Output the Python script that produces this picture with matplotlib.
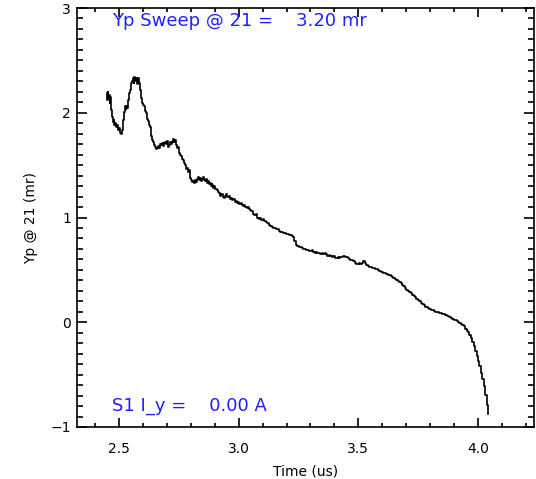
import matplotlib
matplotlib.use("Agg")
import matplotlib.pyplot as plt
from matplotlib.ticker import MultipleLocator

time_us = [
    2.449, 2.451, 2.453, 2.455, 2.458, 2.461, 2.463, 2.466, 2.470, 2.474,
    2.478, 2.482, 2.486, 2.490, 2.494, 2.498, 2.502, 2.506, 2.510, 2.514,
    2.518, 2.522, 2.525, 2.528, 2.532, 2.536, 2.540, 2.544, 2.548, 2.551,
    2.555, 2.559, 2.562, 2.565, 2.569, 2.573, 2.577, 2.580, 2.584, 2.588,
    2.592, 2.596, 2.600, 2.604, 2.608, 2.612, 2.616, 2.620, 2.624, 2.628,
    2.632, 2.636, 2.640, 2.644, 2.648, 2.652, 2.656, 2.660, 2.664, 2.668,
    2.672, 2.676, 2.680, 2.684, 2.688, 2.692, 2.696, 2.700, 2.704, 2.708,
    2.712, 2.716, 2.720, 2.724, 2.728, 2.732, 2.736, 2.740, 2.744, 2.748,
    2.752, 2.756, 2.760, 2.764, 2.768, 2.772, 2.776, 2.780, 2.784, 2.788,
    2.792, 2.796, 2.800, 2.804, 2.808, 2.812, 2.816, 2.820, 2.824, 2.828,
    2.832, 2.836, 2.840, 2.844, 2.848, 2.852, 2.856, 2.860, 2.864, 2.868,
    2.872, 2.876, 2.880, 2.884, 2.888, 2.892, 2.896, 2.900, 2.905, 2.910,
    2.915, 2.920, 2.925, 2.930, 2.935, 2.940, 2.945, 2.950, 2.955, 2.960,
    2.965, 2.970, 2.975, 2.980, 2.985, 2.990, 2.995, 3.000, 3.005, 3.010,
    3.015, 3.020, 3.025, 3.030, 3.035, 3.040, 3.045, 3.050, 3.056, 3.062,
    3.068, 3.074, 3.080, 3.086, 3.092, 3.098, 3.104, 3.110, 3.116, 3.122,
    3.128, 3.134, 3.140, 3.146, 3.152, 3.158, 3.164, 3.170, 3.176, 3.182,
    3.188, 3.194, 3.200, 3.206, 3.212, 3.218, 3.224, 3.230, 3.236, 3.242,
    3.248, 3.254, 3.260, 3.266, 3.272, 3.278, 3.284, 3.290, 3.296, 3.302,
    3.308, 3.314, 3.320, 3.326, 3.332, 3.338, 3.344, 3.350, 3.356, 3.362,
    3.368, 3.374, 3.380, 3.386, 3.392, 3.398, 3.404, 3.410, 3.416, 3.422,
    3.428, 3.434, 3.440, 3.446, 3.452, 3.458, 3.464, 3.470, 3.476, 3.482,
    3.488, 3.494, 3.500, 3.506, 3.512, 3.518, 3.524, 3.530, 3.536, 3.542,
    3.548, 3.554, 3.560, 3.566, 3.572, 3.578, 3.584, 3.590, 3.596, 3.602,
    3.608, 3.614, 3.620, 3.626, 3.632, 3.638, 3.644, 3.650, 3.656, 3.662,
    3.668, 3.674, 3.680, 3.686, 3.692, 3.698, 3.704, 3.710, 3.716, 3.722,
    3.728, 3.734, 3.740, 3.746, 3.752, 3.758, 3.764, 3.770, 3.776, 3.782,
    3.788, 3.794, 3.800, 3.806, 3.812, 3.818, 3.824, 3.830, 3.836, 3.842,
    3.848, 3.854, 3.860, 3.866, 3.872, 3.878, 3.884, 3.890, 3.896, 3.902,
    3.908, 3.914, 3.920, 3.926, 3.932, 3.938, 3.944, 3.950, 3.956, 3.962,
    3.968, 3.974, 3.980, 3.986, 3.992, 3.998, 4.004, 4.010, 4.016, 4.022,
    4.028, 4.034, 4.040, 4.044,
]

yp_mr = [
    2.19, 2.12, 2.20, 2.14, 2.17, 2.09, 2.15, 2.03, 1.96, 1.91,
    1.93, 1.88, 1.90, 1.86, 1.88, 1.84, 1.85, 1.81, 1.80, 1.84,
    1.93, 2.01, 2.06, 2.04, 2.06, 2.05, 2.12, 2.19, 2.22, 2.28,
    2.30, 2.33, 2.28, 2.34, 2.30, 2.33, 2.27, 2.33, 2.28, 2.22,
    2.14, 2.09, 2.07, 2.06, 2.02, 2.00, 1.99, 1.94, 1.92, 1.88,
    1.86, 1.78, 1.74, 1.72, 1.69, 1.67, 1.65, 1.66, 1.68, 1.66,
    1.70, 1.69, 1.71, 1.68, 1.71, 1.72, 1.70, 1.73, 1.71, 1.67,
    1.69, 1.72, 1.70, 1.72, 1.75, 1.72, 1.74, 1.69, 1.66, 1.67,
    1.62, 1.60, 1.59, 1.56, 1.55, 1.52, 1.50, 1.46, 1.47, 1.43,
    1.45, 1.41, 1.38, 1.36, 1.34, 1.35, 1.33, 1.36, 1.34, 1.37,
    1.39, 1.36, 1.38, 1.35, 1.37, 1.39, 1.36, 1.35, 1.37, 1.33,
    1.35, 1.32, 1.33, 1.30, 1.32, 1.31, 1.28, 1.30, 1.27, 1.26,
    1.24, 1.23, 1.21, 1.22, 1.20, 1.19, 1.21, 1.22, 1.20, 1.21,
    1.18, 1.19, 1.17, 1.18, 1.15, 1.16, 1.14, 1.15, 1.13, 1.14,
    1.12, 1.11, 1.12, 1.10, 1.09, 1.10, 1.08, 1.07, 1.06, 1.03,
    1.02, 1.03, 1.00, 0.99, 1.00, 0.98, 0.99, 0.97, 0.96, 0.95,
    0.93, 0.92, 0.91, 0.90, 0.90, 0.89, 0.89, 0.87, 0.86, 0.86,
    0.85, 0.85, 0.84, 0.84, 0.83, 0.83, 0.82, 0.81, 0.78, 0.74,
    0.73, 0.72, 0.72, 0.71, 0.70, 0.70, 0.69, 0.69, 0.68, 0.68,
    0.69, 0.67, 0.66, 0.67, 0.66, 0.66, 0.65, 0.66, 0.65, 0.66,
    0.65, 0.63, 0.64, 0.63, 0.62, 0.63, 0.61, 0.61, 0.62, 0.61,
    0.62, 0.62, 0.63, 0.62, 0.62, 0.61, 0.60, 0.59, 0.59, 0.58,
    0.57, 0.56, 0.56, 0.57, 0.56, 0.57, 0.58, 0.57, 0.55, 0.54,
    0.53, 0.53, 0.52, 0.52, 0.51, 0.51, 0.50, 0.49, 0.48, 0.48,
    0.47, 0.47, 0.46, 0.45, 0.45, 0.44, 0.43, 0.42, 0.41, 0.40,
    0.39, 0.38, 0.37, 0.36, 0.35, 0.33, 0.31, 0.30, 0.29, 0.28,
    0.26, 0.25, 0.24, 0.22, 0.21, 0.20, 0.18, 0.17, 0.16, 0.15,
    0.15, 0.14, 0.13, 0.12, 0.12, 0.11, 0.10, 0.10, 0.10, 0.09,
    0.09, 0.08, 0.08, 0.07, 0.06, 0.06, 0.05, 0.04, 0.03, 0.02,
    0.02, 0.01, 0.00, -0.01, -0.02, -0.03, -0.04, -0.06, -0.08, -0.09,
    -0.12, -0.15, -0.19, -0.23, -0.27, -0.32, -0.37, -0.42, -0.48, -0.54,
    -0.61, -0.69, -0.79, -0.88,
]

title_text = "Yp Sweep @ 21 =    3.20 mr"
bottom_text = "S1 I_y =    0.00 A"
x_label = "Time (us)"
y_label = "Yp @ 21 (mr)"

plt.rcParams['font.family'] = ['DejaVu Sans']

fig = plt.figure(figsize=(5.36, 4.79), dpi=100)
ax = fig.add_axes([76.7 / 536, 1 - 427 / 479, (534 - 76.7) / 536, (427 - 8) / 479])

ax.plot(time_us, yp_mr, color='black', linewidth=1.2, drawstyle='steps-mid')

ax.set_xlim(2.322, 4.235)
ax.set_ylim(-1, 3)

ax.xaxis.set_major_locator(MultipleLocator(0.5))
ax.xaxis.set_minor_locator(MultipleLocator(0.1))
ax.yaxis.set_major_locator(MultipleLocator(1))
ax.yaxis.set_minor_locator(MultipleLocator(0.1))
ax.xaxis.set_major_formatter(plt.FuncFormatter(lambda v, p: f"{v:.1f}"))
ax.yaxis.set_major_formatter(plt.FuncFormatter(lambda v, p: f"{int(round(v))}".replace('-', '\u2212')))

ax.tick_params(axis='both', which='both', direction='in', top=True, right=True,
               width=1.2, colors='black', labelsize=10)
ax.tick_params(axis='x', which='major', length=6.8, pad=11)
ax.tick_params(axis='x', which='minor', length=3.2)
ax.tick_params(axis='y', which='major', length=7.5, pad=4)
ax.tick_params(axis='y', which='minor', length=4.5)

for sp in ax.spines.values():
    sp.set_linewidth(1.2)

ax.set_xlabel(x_label, fontsize=10, labelpad=6)
ax.set_ylabel(y_label, fontsize=10, labelpad=9)

ax.text(0.0765, 0.969, title_text, transform=ax.transAxes, color='#2020ff',
        fontsize=13, ha='left', va='center')
ax.text(0.0765, 0.049, bottom_text, transform=ax.transAxes, color='#2020ff',
        fontsize=13, ha='left', va='center')

fig.savefig('out.png', dpi=100)
